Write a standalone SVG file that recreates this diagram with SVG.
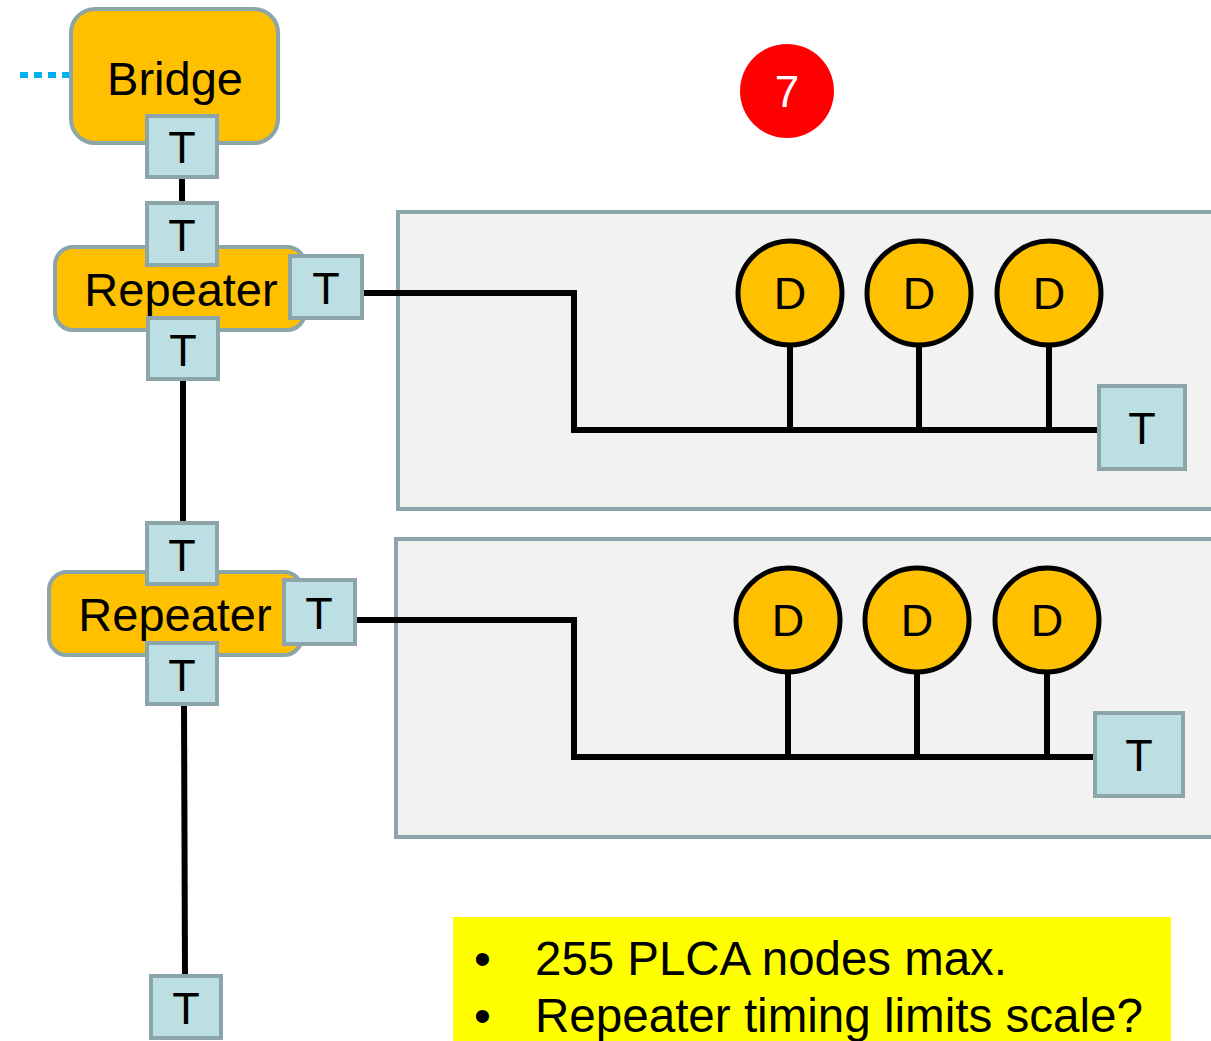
<svg xmlns="http://www.w3.org/2000/svg" width="1211" height="1041" viewBox="0 0 1211 1041">
<style>
.box{fill:#FFC000;stroke:#8CA5A8;stroke-width:4}
.t rect{fill:#BBDFE2;stroke:#8CA5A8;stroke-width:4}
.t text,.lbl{font-family:"Liberation Sans",Arial,sans-serif;fill:#000;text-anchor:middle}
.t text{font-size:45px}
.lbl{font-size:47px}
.d circle{fill:#FFC000;stroke:#000;stroke-width:5}
.d text{font-family:"Liberation Sans",Arial,sans-serif;font-size:45px;text-anchor:middle}
.panel{fill:#F2F2F2;stroke:#8CA5A8;stroke-width:4}
.wire{fill:none;stroke:#000;stroke-width:6}
.bul{font-family:"Liberation Sans",Arial,sans-serif;font-size:48px}
</style>
<rect width="1211" height="1041" fill="#fff"/>
<g id="panel1"><rect class="panel" x="398" y="212" width="830" height="297"/></g>
<g id="panel2"><rect class="panel" x="396" y="539" width="832" height="298"/></g>
<g id="connectors">
<line x1="20" y1="75" x2="70" y2="75" stroke="#00B0F0" stroke-width="6" stroke-dasharray="8,6"/>
<line class="wire" x1="182" y1="177" x2="182" y2="203"/>
<line class="wire" x1="183" y1="379" x2="183" y2="523"/>
<line class="wire" x1="184" y1="704" x2="185" y2="976"/>
<polyline class="wire" points="362,293 574,293 574,430 1099,430"/>
<line class="wire" x1="790" y1="345" x2="790" y2="430"/>
<line class="wire" x1="919" y1="345" x2="919" y2="430"/>
<line class="wire" x1="1049" y1="345" x2="1049" y2="430"/>
<polyline class="wire" points="355,620 574,620 574,757 1096,757"/>
<line class="wire" x1="788" y1="672" x2="788" y2="757"/>
<line class="wire" x1="917" y1="672" x2="917" y2="757"/>
<line class="wire" x1="1047" y1="672" x2="1047" y2="757"/>
</g>
<g id="bridge"><rect class="box" x="71" y="9" width="207" height="134" rx="24"/><text class="lbl" x="175" y="95">Bridge</text></g>
<g id="t_bridge" class="t"><rect x="147" y="116" width="70" height="61"/><text x="182" y="163">T</text></g>
<g id="rep1"><rect class="box" x="55" y="247" width="250" height="83" rx="18"/><text class="lbl" x="181" y="306">Repeater</text></g>
<g id="t_r1_top" class="t"><rect x="147" y="203" width="70" height="62"/><text x="182" y="251">T</text></g>
<g id="t_r1_right" class="t"><rect x="290" y="256" width="72" height="62"/><text x="326" y="304">T</text></g>
<g id="t_r1_bot" class="t"><rect x="148" y="318" width="70" height="61"/><text x="183" y="366">T</text></g>
<g id="rep2"><rect class="box" x="49" y="572" width="253" height="83" rx="18"/><text class="lbl" x="175" y="631">Repeater</text></g>
<g id="t_r2_top" class="t"><rect x="147" y="523" width="70" height="61"/><text x="182" y="571">T</text></g>
<g id="t_r2_right" class="t"><rect x="284" y="580" width="71" height="64"/><text x="319" y="629">T</text></g>
<g id="t_r2_bot" class="t"><rect x="147" y="643" width="70" height="61"/><text x="182" y="691">T</text></g>
<g id="t_end" class="t"><rect x="151" y="976" width="70" height="62"/><text x="186" y="1024">T</text></g>
<g id="d1" class="d"><circle cx="790" cy="293" r="52"/><text x="790" y="309">D</text></g>
<g id="d2" class="d"><circle cx="919" cy="293" r="52"/><text x="919" y="309">D</text></g>
<g id="d3" class="d"><circle cx="1049" cy="293" r="52"/><text x="1049" y="309">D</text></g>
<g id="t_p1" class="t"><rect x="1099" y="386" width="86" height="83"/><text x="1142" y="444">T</text></g>
<g id="d4" class="d"><circle cx="788" cy="620" r="52"/><text x="788" y="636">D</text></g>
<g id="d5" class="d"><circle cx="917" cy="620" r="52"/><text x="917" y="636">D</text></g>
<g id="d6" class="d"><circle cx="1047" cy="620" r="52"/><text x="1047" y="636">D</text></g>
<g id="t_p2" class="t"><rect x="1095" y="713" width="88" height="83"/><text x="1139" y="771">T</text></g>
<g id="badge"><circle cx="787" cy="91" r="47" fill="#FF0000"/><text x="787" y="107" font-family="Liberation Sans,Arial,sans-serif" font-size="44" fill="#fff" text-anchor="middle">7</text></g>
<g id="note">
<rect x="453" y="917" width="718" height="124" fill="#FFFF00"/>
<text class="bul" x="474" y="975">•</text>
<text class="bul" x="535" y="975" textLength="472" lengthAdjust="spacingAndGlyphs">255 PLCA nodes max.</text>
<text class="bul" x="474" y="1032">•</text>
<text class="bul" x="535" y="1032" textLength="608" lengthAdjust="spacingAndGlyphs">Repeater  timing limits scale?</text>
</g>
</svg>
